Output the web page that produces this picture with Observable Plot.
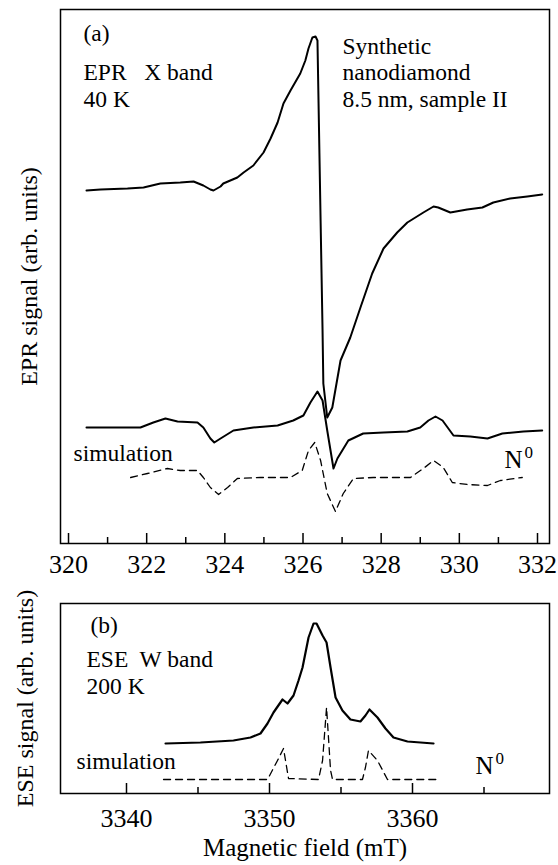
<!DOCTYPE html>
<html><head><meta charset="utf-8">
<script src="https://cdn.jsdelivr.net/npm/d3@7"></script>
<script src="https://cdn.jsdelivr.net/npm/@observablehq/plot@0.6"></script>
<style>
body{margin:0;background:#fff}
#chart{width:558px}
svg{display:block;overflow:visible}
</style>
</head><body><div id="chart"></div>
<script>
// ---------- Panel (a): EPR X band, 40 K ----------
const eprTopField = [320.46,320.82,321.51,321.92,322.35,322.86,323.20,323.45,323.63,323.71,323.89,323.96,324.32,324.48,324.73,324.99,325.17,325.35,325.50,325.68,325.93,326.06,326.14,326.24,326.32,326.37,326.45,326.50,326.52,326.62,326.75,326.96,327.21,327.47,327.77,328.06,328.41,328.67,329.08,329.34,329.46,329.77,330.20,330.59,330.87,331.30,331.74,332.12];
const eprTopSignal = [353,354,355,356,360,361,362,358,354,353,357,360,366,371,378,391,405,421,440,453,470,483,495,506,507,503,323,213,160,126,136,183,206,236,270,295,311,321,331,337,336,331,334,336,341,345,347,349];

const eprMidField = [320.46,321.84,322.17,322.48,322.79,323.30,323.45,323.63,323.73,323.89,324.22,324.73,325.35,325.75,326.01,326.19,326.37,326.50,326.62,326.78,326.88,327.16,327.54,328.06,328.67,329.00,329.21,329.39,329.57,329.85,330.28,330.72,331.10,331.64,332.12];
const eprMidSignal = [116,116,121,125,122,121,116,105,101,105,113,116,118,123,128,141,152,143,113,75,85,103,110,111,112,116,123,127,123,108,107,105,110,112,113];

const eprSimField = [321.59,322.02,322.53,322.86,323.30,323.45,323.63,323.84,324.07,324.32,324.91,325.68,325.98,326.14,326.30,326.45,326.62,326.83,327.03,327.29,327.80,328.75,329.08,329.34,329.59,329.82,330.20,330.72,331.05,331.61];
const eprSimSignal = [66,70,75,73,73,66,56,49,56,65,66,66,73,93,101,83,50,32,50,65,66,66,75,83,76,61,59,58,63,66];

const eprMajorTicks = [320,322,324,326,328,330,332];
const eprMinorTicks = [321,323,325,327,329,331];

// ---------- Panel (b): ESE W band, 200 K ----------
const eseExpField = [3342.73,3345.17,3347.48,3348.67,3349.37,3349.86,3350.28,3350.91,3351.26,3351.68,3352.03,3352.31,3352.73,3353.08,3353.29,3353.71,3353.99,3354.27,3354.62,3355.10,3355.66,3356.36,3356.71,3356.99,3357.55,3358.11,3358.67,3359.65,3361.47];
const eseExpSignal = [50,51,53,56,60,70,81,94,90,98,113,126,156,170,170,158,151,126,96,83,74,72,78,84,76,65,56,52,50];

const eseSimField = [3342.59,3349.86,3350.56,3350.98,3351.33,3353.43,3353.71,3353.99,3354.27,3354.41,3356.50,3356.71,3356.92,3357.55,3358.25,3361.75];
const eseSimSignal = [14,14,33,45,15,14,33,86,23,14,14,26,43,33,14,14];

const eseMajorTicks = [3340,3350,3360];
const eseMinorTicks = [3345,3355,3365];

const zip = (xs, ys) => xs.map((x, i) => ({x, y: ys[i]}));

const font = "'Liberation Serif','Times New Roman',Times,serif";
const label = (t, dx, dy, size, anchor = "start") =>
  Plot.text([t], {text: d => d, frameAnchor: "top-left", dx, dy, textAnchor: anchor, lineAnchor: "bottom", fontSize: size, fontFamily: font, fill: "black"});

const plotA = Plot.plot({
  width: 558, height: 600,
  marginLeft: 60, marginRight: 9, marginTop: 9, marginBottom: 57,
  style: {fontFamily: font, color: "black", background: "white", overflow: "visible"},
  x: {domain: [319.795, 332.307]},
  y: {domain: [0, 534], axis: null},
  marks: [
    Plot.frame({stroke: "black", strokeWidth: 1.5}),
    Plot.ruleX(eprMajorTicks, {x: d => d, insetTop: 524, stroke: "black", strokeWidth: 1.5}),
    Plot.ruleX(eprMinorTicks, {x: d => d, insetTop: 528, stroke: "black", strokeWidth: 1.5}),
    Plot.axisX(eprMajorTicks, {tickSize: 0, tickPadding: 11, fontSize: 26, fontFamily: font, fontVariant: "normal", fill: "black", tickFormat: d => String(d), label: null}),
    Plot.line(zip(eprTopField, eprTopSignal), {x: "x", y: "y", stroke: "black", strokeWidth: 2}),
    Plot.line(zip(eprMidField, eprMidSignal), {x: "x", y: "y", stroke: "black", strokeWidth: 2}),
    Plot.line(zip(eprSimField, eprSimSignal), {x: "x", y: "y", stroke: "black", strokeWidth: 1.3, strokeDasharray: "7,5"}),
    label("(a)", 23, 31, 23.5),
    label("EPR   X band", 23, 70, 23.5),
    label("40 K", 23, 97, 23.5),
    label("Synthetic", 282, 44, 23.5),
    label("nanodiamond", 282, 70, 23.5),
    label("8.5 nm, sample II", 282, 97, 23.5),
    label("simulation", 13, 451, 23.5),
    label("N", 444, 458, 25),
    label("0", 464, 448, 17),
    Plot.text(["EPR signal (arb. units)"], {text: d => d, frameAnchor: "left", dx: -24, rotate: -90, textAnchor: "middle", lineAnchor: "bottom", fontSize: 24, fontFamily: font, fill: "black"})
  ]
});

const plotB = Plot.plot({
  width: 558, height: 265,
  marginLeft: 60, marginRight: 9, marginTop: 3, marginBottom: 72,
  style: {fontFamily: font, color: "black", background: "transparent", overflow: "visible"},
  x: {domain: [3335.385, 3369.58]},
  y: {domain: [0, 190], axis: null},
  marks: [
    Plot.frame({stroke: "black", strokeWidth: 1.5}),
    Plot.ruleX(eseMajorTicks, {x: d => d, insetTop: 180, stroke: "black", strokeWidth: 1.5}),
    Plot.ruleX(eseMinorTicks, {x: d => d, insetTop: 184, stroke: "black", strokeWidth: 1.5}),
    Plot.axisX(eseMajorTicks, {tickSize: 0, tickPadding: 15, fontSize: 26, fontFamily: font, fontVariant: "normal", fill: "black", tickFormat: d => String(d), label: null}),
    Plot.line(zip(eseExpField, eseExpSignal), {x: "x", y: "y", stroke: "black", strokeWidth: 2.2}),
    Plot.line(zip(eseSimField, eseSimSignal), {x: "x", y: "y", stroke: "black", strokeWidth: 1.3, strokeDasharray: "7,5"}),
    label("(b)", 30, 29, 23.5),
    label("ESE  W band", 26, 63, 23.5),
    label("200 K", 26, 90, 23.5),
    label("simulation", 16, 165, 23.5),
    label("N", 415, 170, 25),
    label("0", 435, 160, 17),
    Plot.text(["ESE signal (arb. units)"], {text: d => d, frameAnchor: "left", dx: -28, rotate: -90, textAnchor: "middle", lineAnchor: "bottom", fontSize: 24, fontFamily: font, fill: "black"}),
    Plot.text(["Magnetic field (mT)"], {text: d => d, frameAnchor: "bottom", dy: 62, textAnchor: "middle", lineAnchor: "bottom", fontSize: 25, fontFamily: font, fill: "black"})
  ]
});

document.getElementById("chart").append(plotA, plotB);
</script></body></html>
